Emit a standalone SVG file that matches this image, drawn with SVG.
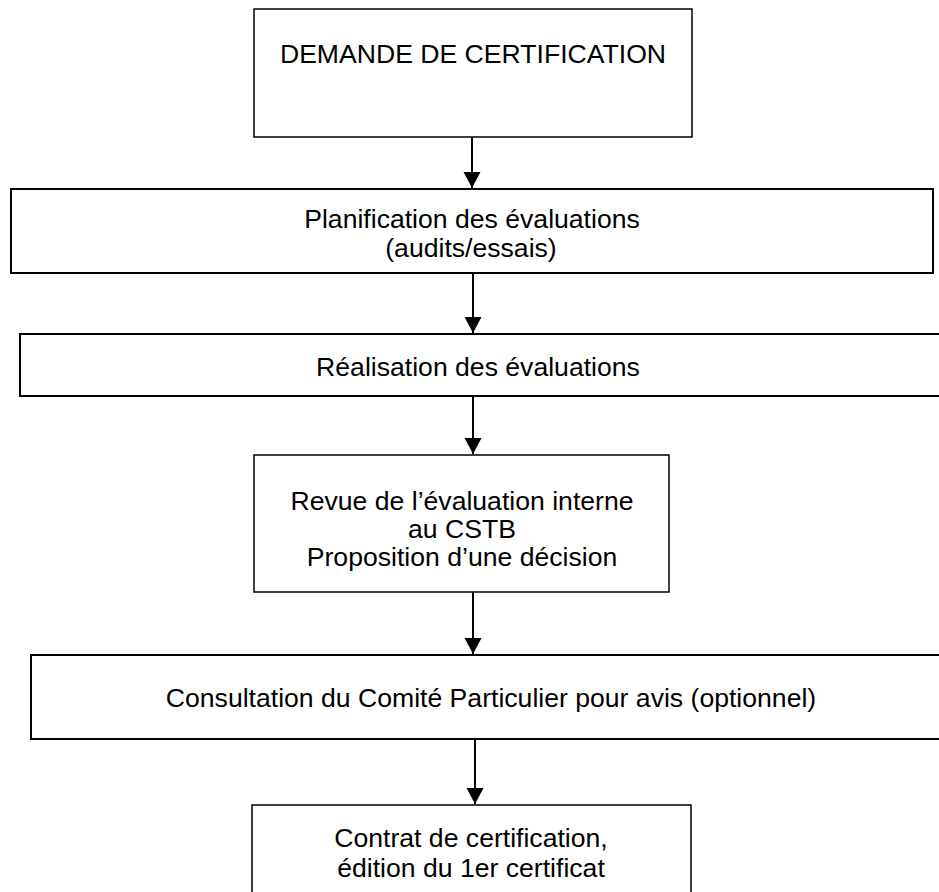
<svg xmlns="http://www.w3.org/2000/svg" width="939" height="892" viewBox="0 0 939 892">
<style>
.box{fill:#fff;stroke:#000;stroke-width:1.5}
.thick{stroke-width:2}
.t{font-family:"Liberation Sans",Arial,sans-serif;font-size:26.6px;fill:#000;text-anchor:middle}
.c{stroke:#000;stroke-width:2;fill:none}
</style>
<defs>
<marker id="ah" markerUnits="userSpaceOnUse" markerWidth="18" markerHeight="18" refX="16" refY="8.5" orient="auto">
<path d="M0,0 L16,8.5 L0,17 Z" fill="#000"/>
</marker>
</defs>
<rect width="939" height="892" fill="#fff"/>
<g id="n1">
<rect class="box" x="254" y="9" width="438" height="128"/>
<text class="t" x="473" y="63">DEMANDE DE CERTIFICATION</text>
</g>
<g id="n2">
<rect class="box thick" x="11" y="189" width="922" height="84"/>
<text class="t" x="472" y="228">Planification des évaluations</text>
<text class="t" x="471" y="257">(audits/essais)</text>
</g>
<g id="n3">
<rect class="box thick" x="20" y="334" width="930" height="62"/>
<text class="t" x="478" y="376">Réalisation des évaluations</text>
</g>
<g id="n4">
<rect class="box" x="254" y="455" width="415" height="137"/>
<text class="t" x="462" y="510">Revue de l’évaluation interne</text>
<text class="t" x="462" y="538">au CSTB</text>
<text class="t" x="462" y="566">Proposition d’une décision</text>
</g>
<g id="n5">
<rect class="box thick" x="31" y="655" width="930" height="84"/>
<text class="t" x="491" y="707">Consultation du Comité Particulier pour avis (optionnel)</text>
</g>
<g id="n6">
<rect class="box" x="252" y="805" width="439" height="100"/>
<text class="t" x="471" y="847">Contrat de certification,</text>
<text class="t" x="471" y="877">édition du 1er certificat</text>
</g>
<g id="connectors">
<line class="c" x1="472" y1="137" x2="472" y2="188" marker-end="url(#ah)"/>
<line class="c" x1="473" y1="273" x2="473" y2="333" marker-end="url(#ah)"/>
<line class="c" x1="473" y1="396" x2="473" y2="454" marker-end="url(#ah)"/>
<line class="c" x1="473" y1="592" x2="473" y2="654" marker-end="url(#ah)"/>
<line class="c" x1="475" y1="739" x2="475" y2="804" marker-end="url(#ah)"/>
</g>
</svg>
